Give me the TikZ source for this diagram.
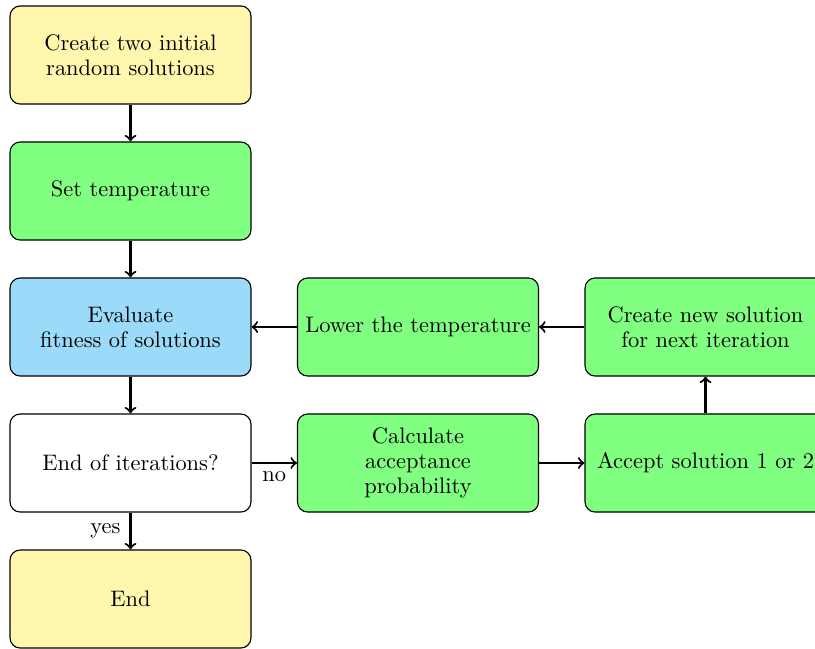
\documentclass[tikz,border=0pt]{standalone}
\usetikzlibrary{positioning}
\definecolor{startyellow}{RGB}{255,247,174}
\definecolor{stepgreen}{RGB}{128,255,128}
\definecolor{evalblue}{RGB}{155,218,249}
\tikzset{
  block/.style={draw=black, rounded corners=4.5pt, minimum width=107.4pt,
    minimum height=43.7pt, align=center, inner sep=2pt, line width=0.5pt,
    font=\fontsize{10}{11}\selectfont},
  startstop/.style={block, fill=startyellow},
  process/.style={block, fill=stepgreen},
  evaluate/.style={block, fill=evalblue},
  decision/.style={block, fill=white},
  flow/.style={->, line width=0.95pt},
  edgelabel/.style={font=\normalsize, inner sep=1pt}
}
\begin{document}
\begin{tikzpicture}[x=0.4458pt, y=-0.4458pt]
  \useasboundingbox (0,0) rectangle (815,648);
  \clip (0,0) rectangle (815,648);
  % left column
  \node[startstop] (init)  at (130.5,55)  {Create two initial\\random solutions};
  \node[process]   (temp)  at (130.5,191) {Set temperature};
  \node[evaluate]  (eval)  at (130.5,327) {Evaluate\\fitness of solutions};
  \node[decision]  (iter)  at (130.5,463) {End of iterations?};
  \node[startstop] (stop)  at (130.5,599) {End};
  % middle column
  \node[process]   (lower) at (418,327)   {Lower the temperature};
  \node[process]   (prob)  at (418,463)   {Calculate\\acceptance\\probability};
  % right column
  \node[process]   (new)   at (705.5,327) {Create new solution\\for next iteration};
  \node[process]   (accept) at (705.5,463) {Accept solution 1 or 2};
  % connectors
  \draw[flow] (init) -- (temp);
  \draw[flow] (temp) -- (eval);
  \draw[flow] (eval) -- (iter);
  \draw[flow] (iter) -- node[edgelabel, left=3pt] {yes} (stop);
  \draw[flow] (iter) -- node[edgelabel, below=2.5pt, pos=0.5] {no} (prob);
  \draw[flow] (prob) -- (accept);
  \draw[flow] (accept) -- (new);
  \draw[flow] (new) -- (lower);
  \draw[flow] (lower) -- (eval);
\end{tikzpicture}
\end{document}
